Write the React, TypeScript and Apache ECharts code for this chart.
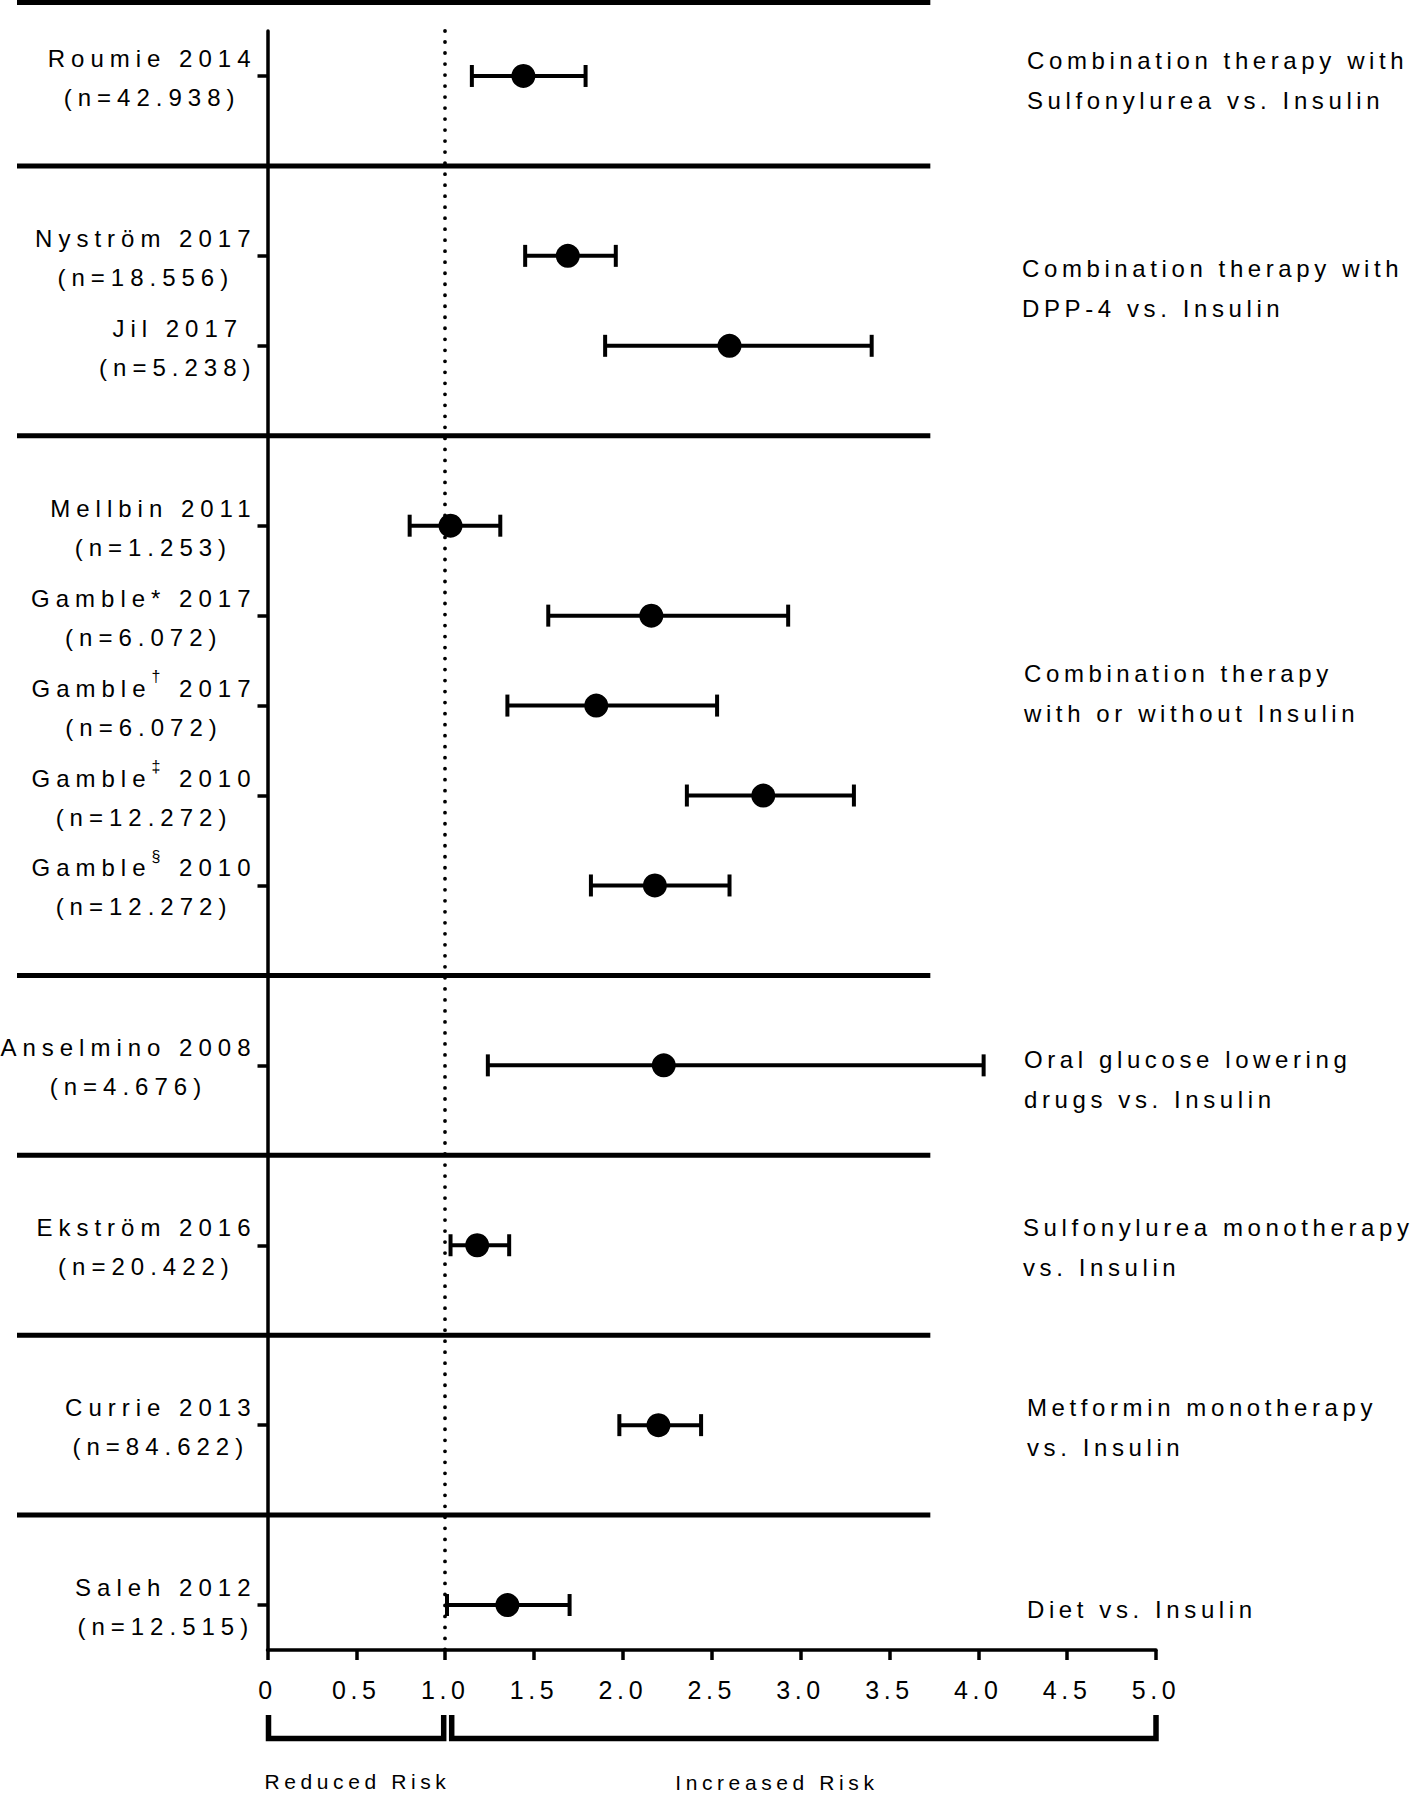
import React, { useEffect, useRef } from 'react';
import * as echarts from 'echarts';

// ---------- data ----------
const studyNames = [
  'Roumie 2014', 'Nyström 2017', 'Jil 2017', 'Mellbin 2011', 'Gamble* 2017', 'Gamble† 2017',
  'Gamble‡ 2010', 'Gamble§ 2010', 'Anselmino 2008', 'Ekström 2016', 'Currie 2013', 'Saleh 2012',
];
const sampleSizes = [
  '(n=42.938)', '(n=18.556)', '(n=5.238)', '(n=1.253)', '(n=6.072)', '(n=6.072)',
  '(n=12.272)', '(n=12.272)', '(n=4.676)', '(n=20.422)', '(n=84.622)', '(n=12.515)',
];
const estimates = [1.44, 1.69, 2.6, 1.03, 2.16, 1.85, 2.79, 2.18, 2.23, 1.18, 2.2, 1.35];
const lowerCI = [1.15, 1.45, 1.9, 0.8, 1.58, 1.35, 2.36, 1.82, 1.24, 1.03, 1.98, 1.01];
const upperCI = [1.79, 1.96, 3.4, 1.31, 2.93, 2.53, 3.3, 2.6, 4.03, 1.36, 2.44, 1.7];
const studyGroup = [0, 1, 1, 2, 2, 2, 2, 2, 3, 4, 5, 6];
const groupLabels = [
  ['Combination therapy with', 'Sulfonylurea vs. Insulin'],
  ['Combination therapy with', 'DPP-4 vs. Insulin'],
  ['Combination therapy', 'with or without Insulin'],
  ['Oral glucose lowering', 'drugs vs. Insulin'],
  ['Sulfonylurea monotherapy', 'vs. Insulin'],
  ['Metformin monotherapy', 'vs. Insulin'],
  ['Diet vs. Insulin'],
];
const xTickLabels = ['0', '0.5', '1.0', '1.5', '2.0', '2.5', '3.0', '3.5', '4.0', '4.5', '5.0'];
const riskLabels = ['Reduced Risk', 'Increased Risk'];
const referenceValue = 1;

// ---------- layout constants ----------
const GROUP_LABEL_SHIFT = [0.05, -0.14, -0.13, 0.16, 0.03, 0.03, 0.05];
const GROUP_LABEL_X = [1027, 1022, 1024, 1024, 1023, 1027, 1027];
const SEPARATOR_END = 3.73;
const LEFT_FONT = "'Liberation Sans', Arimo, Arial, sans-serif";
const OTHER_FONT = "'Liberation Sans', Arial, Helvetica, sans-serif";
const LEFT_LS = 6;

// rows of the category axis: studies, with a separator row between groups
const rowKeys: string[] = [];
const studyRow: number[] = [];
studyNames.forEach((name, i) => {
  if (i > 0 && studyGroup[i] !== studyGroup[i - 1]) rowKeys.push('sep' + rowKeys.length);
  studyRow.push(rowKeys.length);
  rowKeys.push(name);
});
const isSep = (v: string) => typeof v === 'string' && v.startsWith('sep');

const css = `
.forest-chart svg text { letter-spacing: 4.6px; }
.forest-chart svg text[style*="Arimo"], .forest-chart svg text[font-family*="Arimo"] { letter-spacing: ${LEFT_LS}px; }
`;

export default function App() {
  const ref = useRef<HTMLDivElement>(null);

  useEffect(() => {
    if (!ref.current) return;
    const chart = echarts.init(ref.current, undefined, { renderer: 'svg' });

    const canvas = document.createElement('canvas');
    const ctx = canvas.getContext('2d')!;
    const sw = (t: string, size: number) => {
      ctx.font = `${size}px ${LEFT_FONT}`;
      return ctx.measureText(t).width + t.length * LEFT_LS;
    };

    const rich: any = {};
    const labelText: Record<string, string> = {};
    studyNames.forEach((name, i) => {
      const base = { fontSize: 24, fontFamily: LEFT_FONT, color: '#000', lineHeight: 39, align: 'center' };
      const m = name.match(/^(\S+?)([†‡§])(.*)$/);
      let line1: string;
      if (m) {
        rich['a' + i] = { ...base, width: sw(m[1], 24) };
        rich['s' + i] = {
          fontSize: 16, fontFamily: LEFT_FONT, color: '#000', lineHeight: 26,
          verticalAlign: 'top', align: 'center', width: sw(m[2], 16),
        };
        rich['c' + i] = { ...base, width: sw(m[3], 24) };
        line1 = `{a${i}|${m[1]}}{s${i}|${m[2]}}{c${i}|${m[3]}}`;
      } else {
        rich['a' + i] = { ...base, width: sw(name, 24) };
        line1 = `{a${i}|${name}}`;
      }
      rich['b' + i] = { ...base, width: sw(sampleSizes[i], 24) };
      labelText[name] = `${line1}\n{b${i}|${sampleSizes[i]}}`;
    });

    const blackLine = { color: '#000', width: 3.5 };

    chart.setOption({
      animation: false,
      textStyle: { fontFamily: OTHER_FONT, color: '#000' },
      grid: {
        left: 267.5, top: 31, width: 888.5, height: 1619,
        containLabel: false, outerBoundsMode: 'none',
      },
      xAxis: {
        type: 'value',
        min: 0,
        max: 5,
        interval: 0.5,
        axisLine: { show: true, onZero: false, lineStyle: blackLine },
        axisTick: { show: true, length: 10, lineStyle: blackLine },
        splitLine: { show: false },
        axisLabel: {
          margin: 27,
          fontSize: 25,
          fontFamily: OTHER_FONT,
          color: '#000',
          formatter: (v: number) => xTickLabels[Math.round(v * 2)] ?? '',
        },
      },
      yAxis: {
        type: 'category',
        data: rowKeys,
        inverse: true,
        boundaryGap: true,
        axisLine: { show: true, onZero: false, lineStyle: blackLine },
        axisTick: {
          show: true,
          alignWithLabel: true,
          length: 10,
          interval: (_i: number, v: string) => !isSep(v),
          lineStyle: blackLine,
        },
        splitLine: { show: false },
        axisLabel: {
          interval: (_i: number, v: string) => !isSep(v),
          margin: 11,
          align: 'right',
          padding: [4, 0, 0, 0],
          fontFamily: LEFT_FONT,
          fontSize: 24,
          color: '#000',
          formatter: (v: string) => (isSep(v) ? '' : labelText[v] ?? ''),
          rich,
        },
      },
      series: [
        {
          type: 'custom',
          name: 'CI',
          z: 2,
          data: lowerCI.map((lo, i) => [lo, studyRow[i], upperCI[i]]),
          renderItem: (_p: any, api: any) => {
            const r = api.value(1);
            const a = api.coord([api.value(0), r]);
            const b = api.coord([api.value(2), r]);
            const capH = 11;
            const st = { stroke: '#000', lineWidth: 4 };
            return {
              type: 'group',
              children: [
                { type: 'line', shape: { x1: a[0], y1: a[1], x2: b[0], y2: b[1] }, style: st },
                { type: 'line', shape: { x1: a[0], y1: a[1] - capH, x2: a[0], y2: a[1] + capH }, style: st },
                { type: 'line', shape: { x1: b[0], y1: b[1] - capH, x2: b[0], y2: b[1] + capH }, style: st },
              ],
            };
          },
          markLine: {
            silent: true,
            symbol: 'none',
            label: { show: false },
            lineStyle: { color: '#000', width: 3.8, type: [0.01, 11], cap: 'round' },
            data: [{ xAxis: referenceValue }],
          },
        },
        {
          type: 'scatter',
          name: 'Estimate',
          z: 3,
          symbol: 'circle',
          symbolSize: 24,
          itemStyle: { color: '#000', opacity: 1 },
          data: estimates.map((e, i) => [e, studyRow[i]]),
        },
      ],
    });

    // annotations positioned through the axes
    const px = (v: number) => chart.convertToPixel({ xAxisIndex: 0 }, v) as number;
    const p0 = chart.convertToPixel({ gridIndex: 0 }, [0, 0]) as number[];
    const p1 = chart.convertToPixel({ gridIndex: 0 }, [0, 1]) as number[];
    const py = (r: number) => p0[1] + r * (p1[1] - p0[1]);

    const graphic: any[] = [];
    const sepX1 = 17;
    const sepX2 = px(SEPARATOR_END);
    const sepStyle = { stroke: '#000', lineWidth: 5 };
    graphic.push({ type: 'line', shape: { x1: sepX1, y1: 2.5, x2: sepX2, y2: 2.5 }, style: sepStyle, z: 1 });
    rowKeys.forEach((k, r) => {
      if (isSep(k)) {
        graphic.push({ type: 'line', shape: { x1: sepX1, y1: py(r), x2: sepX2, y2: py(r) }, style: sepStyle, z: 1 });
      }
    });

    groupLabels.forEach((lines, g) => {
      const rows = studyRow.filter((_, i) => studyGroup[i] === g);
      const mid = (rows[0] + rows[rows.length - 1]) / 2 + GROUP_LABEL_SHIFT[g];
      graphic.push({
        type: 'text',
        x: GROUP_LABEL_X[g],
        y: py(mid),
        style: {
          text: lines.join('\n'),
          fontSize: 24,
          fontFamily: OTHER_FONT,
          fill: '#000',
          lineHeight: 40,
          align: 'left',
          verticalAlign: 'middle',
          textAlign: 'left',
          textVerticalAlign: 'middle',
        },
      });
    });

    // brackets under the axis
    const bTop = 1715;
    const bBot = 1738.5;
    const bStyle = { stroke: '#000', lineWidth: 5.5, fill: null, lineJoin: 'miter' };
    const l1 = px(0) + 1;
    const l2 = px(referenceValue) - 1.5;
    const rA = px(referenceValue) + 6.5;
    const rB = px(5);
    graphic.push({
      type: 'polyline',
      shape: { points: [[l1, bTop], [l1, bBot], [l2, bBot], [l2, bTop]] },
      style: bStyle,
    });
    graphic.push({
      type: 'polyline',
      shape: { points: [[rA, bTop], [rA, bBot], [rB, bBot], [rB, bTop]] },
      style: bStyle,
    });
    graphic.push({
      type: 'text',
      x: px(0) - 3,
      y: 1781,
      style: {
        text: riskLabels[0], fontSize: 21, fontFamily: OTHER_FONT, fill: '#000',
        align: 'left', verticalAlign: 'middle', textAlign: 'left', textVerticalAlign: 'middle',
      },
    });
    graphic.push({
      type: 'text',
      x: px(2.3) - 1,
      y: 1782,
      style: {
        text: riskLabels[1], fontSize: 21, fontFamily: OTHER_FONT, fill: '#000',
        align: 'left', verticalAlign: 'middle', textAlign: 'left', textVerticalAlign: 'middle',
      },
    });

    chart.setOption({ graphic });

    return () => chart.dispose();
  }, []);

  return (
    <>
      <style>{css}</style>
      <div
        ref={ref}
        className="forest-chart"
        style={{ position: 'absolute', left: 0, top: 0, width: 1418, height: 1795, background: '#fff' }}
      />
    </>
  );
}
